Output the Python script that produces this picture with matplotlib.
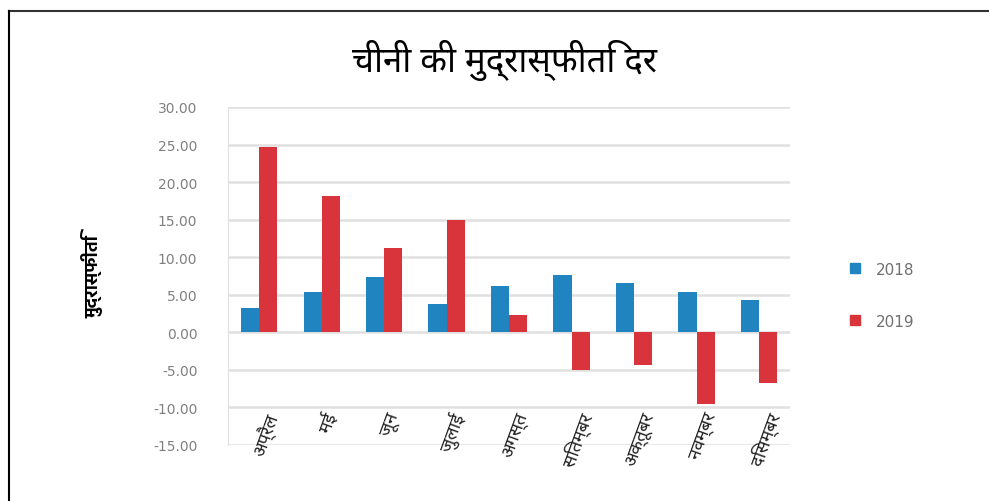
import numpy as np
import matplotlib
matplotlib.use("Agg")
import matplotlib.pyplot as plt
from matplotlib.lines import Line2D

plt.rcParams['font.family'] = ['Noto Sans Devanagari', 'DejaVu Sans']

# data
months = ['अप्रैल', 'मई', 'जून', 'जुलाई', 'अगस्त', 'सितम्बर', 'अक्तूबर', 'नवम्बर', 'दिसम्बर']
series_names = ['2018', '2019']
vals_2018 = [3.2, 5.4, 7.4, 3.8, 6.1, 7.6, 6.5, 5.4, 4.3]
vals_2019 = [24.7, 18.1, 11.2, 14.9, 2.3, -5.0, -4.4, -9.5, -6.8]
yticks = [30, 25, 20, 15, 10, 5, 0, -5, -10, -15]

blue = '#1f84c0'
red = '#d9343c'

fig = plt.figure(figsize=(9.89, 5.02), dpi=100)
ax = fig.add_axes([0.2305, 0.1116, 0.5685, 0.6733])

x = np.arange(len(months))
w = 0.29
ax.bar(x - w / 2, vals_2018, w, color=blue, label=series_names[0], zorder=3)
ax.bar(x + w / 2, vals_2019, w, color=red, label=series_names[1], zorder=3)

ax.set_xlim(-0.5, len(months) - 0.5)
ax.set_ylim(-15, 30)
ax.set_yticks(yticks)
ax.set_yticklabels(['%.2f' % v for v in yticks], color='#808080', fontsize=10,
                   family='DejaVu Sans')
ax.tick_params(axis='y', length=0, pad=22)
ax.set_xticks([])
ax.grid(axis='y', color='#e0e0e0', lw=1.8, zorder=0)
for s in ['top', 'right', 'bottom']:
    ax.spines[s].set_visible(False)
ax.spines['left'].set_color('#e0e0e0')

# category labels sit inside the plot, near the bottom
for i, m in enumerate(months):
    ax.text(i + 0.1, -10.3, m, rotation=70, ha='center', va='top',
            fontsize=13, color='#222222')

ax.set_ylabel('मुद्रास्फीति', fontsize=13, fontweight='bold', labelpad=36,
              family=['Hind', 'Noto Sans Devanagari', 'DejaVu Sans'])

fig.text(0.51, 0.88, 'चीनी की मुद्रास्फीति दर', ha='center', va='center', fontsize=25)

handles = [Line2D([], [], ls='', marker='s', ms=7, color=blue),
           Line2D([], [], ls='', marker='s', ms=7, color=red)]
fig.legend(handles, series_names, loc='center left', bbox_to_anchor=(0.835, 0.41),
           frameon=False, labelspacing=2.4, handletextpad=0.4,
           labelcolor='#707070', prop={'family': 'DejaVu Sans', 'size': 11})

# frame lines at top and left of the picture
fig.add_artist(Line2D([0.009, 1.0], [0.976, 0.976], color='#333333', lw=1.5,
                      transform=fig.transFigure))
fig.add_artist(Line2D([0.009, 0.009], [0.0, 0.976], color='black', lw=1.5,
                      transform=fig.transFigure))

fig.savefig('out.png', dpi=100)
